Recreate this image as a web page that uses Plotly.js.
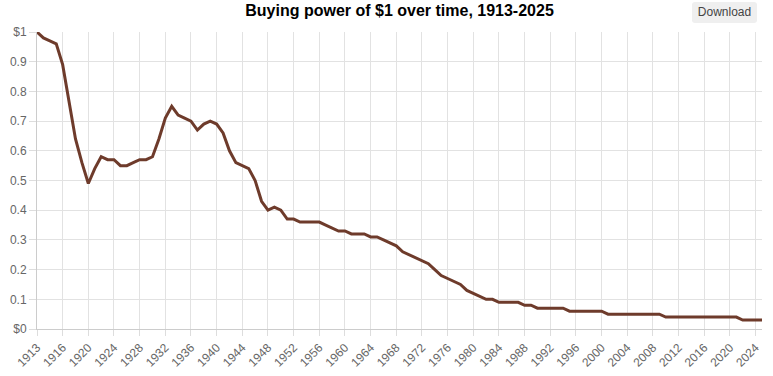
<!DOCTYPE html>
<html>
<head>
<meta charset="utf-8">
<script src="https://cdn.plot.ly/plotly-3.0.1.min.js"></script>
<style>
  html, body { margin: 0; padding: 0; background: #fff; }
  #wrap { position: relative; width: 773px; height: 376px; }
  #chart { width: 773px; height: 376px; }
  #dl {
    position: absolute; left: 692px; top: 2px; width: 65px; height: 21px;
    background: #efefef; border: none; border-radius: 3px;
    font: 12px "Liberation Sans", Arial, sans-serif; color: #444;
    padding: 0; line-height: 21px; text-align: center;
  }
</style>
</head>
<body>
<div id="wrap">
  <div id="chart"></div>
  <button id="dl">Download</button>
</div>
<script>
// x positions of the points (first point is the 1913 starting dollar)
const years = [1912,1913,1914,1915,1916,1917,1918,1919,1920,1921,1922,1923,1924,1925,1926,1927,1928,1929,
  1930,1931,1932,1933,1934,1935,1936,1937,1938,1939,1940,1941,1942,1943,1944,1945,1946,1947,1948,1949,
  1950,1951,1952,1953,1954,1955,1956,1957,1958,1959,1960,1961,1962,1963,1964,1965,1966,1967,1968,1969,
  1970,1971,1972,1973,1974,1975,1976,1977,1978,1979,1980,1981,1982,1983,1984,1985,1986,1987,1988,1989,
  1990,1991,1992,1993,1994,1995,1996,1997,1998,1999,2000,2001,2002,2003,2004,2005,2006,2007,2008,2009,
  2010,2011,2012,2013,2014,2015,2016,2017,2018,2019,2020,2021,2022,2023,2024,2025];

// buying power of $1
const buyingPower = [1.00,0.98,0.97,0.96,0.89,0.76,0.64,0.56,0.49,0.54,0.58,0.57,0.57,0.55,0.55,0.56,0.57,0.57,
  0.58,0.64,0.71,0.75,0.72,0.71,0.70,0.67,0.69,0.70,0.69,0.66,0.60,0.56,0.55,0.54,0.50,0.43,0.40,0.41,
  0.40,0.37,0.37,0.36,0.36,0.36,0.36,0.35,0.34,0.33,0.33,0.32,0.32,0.32,0.31,0.31,0.30,0.29,0.28,0.26,
  0.25,0.24,0.23,0.22,0.20,0.18,0.17,0.16,0.15,0.13,0.12,0.11,0.10,0.10,0.09,0.09,0.09,0.09,0.08,0.08,
  0.07,0.07,0.07,0.07,0.07,0.06,0.06,0.06,0.06,0.06,0.06,0.05,0.05,0.05,0.05,0.05,0.05,0.05,0.05,0.05,
  0.04,0.04,0.04,0.04,0.04,0.04,0.04,0.04,0.04,0.04,0.04,0.04,0.03,0.03,0.03,0.03];

const xTickVals = [1912,1916,1920,1924,1928,1932,1936,1940,1944,1948,1952,1956,1960,1964,1968,1972,1976,
  1980,1984,1988,1992,1996,2000,2004,2008,2012,2016,2020,2024];
const xTickText = ['1913','1916','1920','1924','1928','1932','1936','1940','1944','1948','1952','1956','1960',
  '1964','1968','1972','1976','1980','1984','1988','1992','1996','2000','2004','2008','2012','2016','2020','2024'];

const yTickVals = [0,0.1,0.2,0.3,0.4,0.5,0.6,0.7,0.8,0.9,1];
const yTickText = ['$0','0.1','0.2','0.3','0.4','0.5','0.6','0.7','0.8','0.9','$1'];

const font = '"Liberation Sans", Arial, Helvetica, sans-serif';

Plotly.newPlot('chart', [{
  x: years,
  y: buyingPower,
  type: 'scatter',
  mode: 'lines',
  line: { color: '#6e3b2b', width: 3 },
  hoverinfo: 'skip'
}], {
  width: 773, height: 376,
  margin: { l: 37, r: 11, t: 32, b: 47 },
  paper_bgcolor: '#fff', plot_bgcolor: '#fff',
  showlegend: false,
  title: {
    text: '<b>Buying power of $1 over time, 1913-2025</b>',
    font: { family: font, size: 16, color: '#000' },
    x: 0.5, xref: 'paper', xanchor: 'center',
    y: 0.973, yref: 'container', yanchor: 'middle'
  },
  xaxis: {
    range: [1912, 2025],
    tickmode: 'array', tickvals: xTickVals, ticktext: xTickText,
    tickangle: -45,
    ticks: 'outside', ticklen: 6, tickcolor: '#ddd',
    showgrid: true, gridcolor: '#e2e2e2', gridwidth: 1,
    showline: true, linecolor: '#ccc', linewidth: 1,
    zeroline: false,
    tickfont: { family: font, size: 12, color: '#666' }
  },
  yaxis: {
    range: [0, 1],
    tickmode: 'array', tickvals: yTickVals, ticktext: yTickText,
    ticks: 'outside', ticklen: 7, tickcolor: '#ddd',
    showgrid: true, gridcolor: '#e2e2e2', gridwidth: 1,
    showline: true, linecolor: '#ccc', linewidth: 1,
    zeroline: false,
    tickfont: { family: font, size: 12, color: '#666' }
  }
}, { displayModeBar: false, staticPlot: true });
</script>
</body>
</html>
